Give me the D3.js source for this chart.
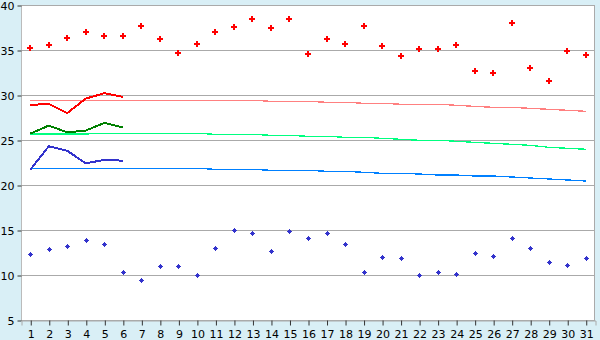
<!DOCTYPE html>
<html>
<head>
<meta charset="utf-8">
<script src="https://cdn.jsdelivr.net/npm/d3@7"></script>
<style>
  body { margin: 0; background: #d9eff6; }
  text { font-family: "DejaVu Sans", Verdana, sans-serif; font-size: 11px; fill: #000; }
</style>
</head>
<body>
<div id="grafiek"></div>
<script>
// dagen van de maand
var dagen = d3.range(1, 32);
var yTicks = [5, 10, 15, 20, 25, 30, 35, 40];

// losse punten: maximum en minimum per dag
var maxPunten = [35.2, 35.6, 36.3, 37.0, 36.6, 36.5, 37.7, 36.2, 34.7, 35.7,
                 37.0, 37.6, 38.4, 37.4, 38.4, 34.6, 36.2, 35.7, 37.7, 35.4,
                 34.3, 35.1, 35.1, 35.6, 32.7, 32.4, 38.0, 33.0, 31.6, 34.9, 34.5];
var minPunten = [12.3, 12.9, 13.2, 13.85, 13.4, 10.3, 9.5, 11.0, 11.0, 10.0,
                 13.0, 15.0, 14.7, 12.7, 14.9, 14.1, 14.7, 13.4, 10.3, 12.0,
                 11.9, 10.0, 10.3, 10.1, 12.5, 12.1, 14.1, 13.0, 11.5, 11.1, 11.9];

// dikke lijnen, alleen de eerste zes dagen
var hoogLijn = [28.9, 29.0, 28.0, 29.6, 30.2, 29.8];
var gemLijn = [25.7, 26.6, 25.85, 26.05, 26.9, 26.4];
var laagLijn = [21.7, 24.3, 23.8, 22.4, 22.8, 22.7];

// dunne lijnen (normalen)
var normHoog = [29.41, 29.41, 29.41, 29.41, 29.41, 29.41, 29.41, 29.41, 29.41, 29.41,
                29.41, 29.41, 29.41, 29.30, 29.30, 29.30, 29.19, 29.19, 29.08, 29.08,
                28.97, 28.97, 28.97, 28.86, 28.74, 28.63, 28.63, 28.52, 28.41, 28.30, 28.19];
var normGem = [25.67, 25.67, 25.67, 25.67, 25.74, 25.74, 25.74, 25.74, 25.74, 25.74,
               25.63, 25.63, 25.63, 25.52, 25.52, 25.41, 25.41, 25.30, 25.30, 25.19,
               25.08, 24.97, 24.97, 24.86, 24.74, 24.63, 24.52, 24.41, 24.19, 24.08, 23.97];
var normLaag = [21.86, 21.86, 21.86, 21.86, 21.86, 21.86, 21.86, 21.86, 21.86, 21.86,
                21.74, 21.74, 21.74, 21.63, 21.63, 21.63, 21.52, 21.52, 21.41, 21.30,
                21.30, 21.22, 21.11, 21.11, 21.00, 21.00, 20.89, 20.78, 20.67, 20.56, 20.44];

var breedte = 600, hoogte = 340;
var marge = {boven: 5, beneden: 20, rechts: 5, links: 21};

var svg = d3.select("#grafiek")
            .append("svg")
            .attr("width", breedte)
            .attr("height", hoogte);

var x = d3.scaleLinear()
          .domain([0.5, 31.5])
          .range([marge.links, breedte - marge.rechts]);

var y = d3.scaleLinear()
          .domain([5, 40])
          .range([hoogte - marge.beneden, marge.boven]);

// witte tekenvlak
svg.append("rect")
   .attr("x", marge.links)
   .attr("y", marge.boven)
   .attr("width", breedte - marge.rechts - marge.links)
   .attr("height", hoogte - marge.beneden - marge.boven)
   .attr("fill", "#fff");

// rasterlijnen
svg.append("g")
   .selectAll("line")
   .data(yTicks)
   .enter().append("line")
   .attr("x1", marge.links)
   .attr("x2", breedte - marge.rechts)
   .attr("y1", function(d) { return Math.round(y(d)) + 0.5; })
   .attr("y2", function(d) { return Math.round(y(d)) + 0.5; })
   .attr("stroke", "#aaa");

// rand links en rechts
svg.append("line")
   .attr("x1", marge.links + 0.5).attr("x2", marge.links + 0.5)
   .attr("y1", marge.boven).attr("y2", hoogte - marge.beneden)
   .attr("stroke", "#bbb");
svg.append("line")
   .attr("x1", breedte - marge.rechts - 0.5).attr("x2", breedte - marge.rechts - 0.5)
   .attr("y1", marge.boven).attr("y2", hoogte - marge.beneden)
   .attr("stroke", "#aaa");

// y-as
var yAs = svg.append("g")
             .attr("transform", "translate(" + (marge.links + 0.5) + ",0.5)")
             .call(d3.axisLeft(y).tickValues(yTicks).tickSize(4).tickPadding(3));
yAs.select(".domain").remove();
yAs.selectAll("line").attr("stroke", "#333");
yAs.selectAll("text").style("font-size", "11px").style("font-family", "DejaVu Sans");

// x-as
var xAs = svg.append("g")
             .attr("transform", "translate(0.5," + (hoogte - marge.beneden + 0.5) + ")")
             .call(d3.axisBottom(x).tickValues(dagen).tickFormat(d3.format("d")).tickSize(5).tickPadding(5));
xAs.select(".domain").attr("stroke", "#aaa");
xAs.selectAll("line").attr("stroke", "#333");
xAs.selectAll("text").style("font-size", "11px").style("font-family", "DejaVu Sans");

var lijn = d3.line()
             .x(function(d, i) { return x(i + 1); })
             .y(function(d) { return y(d); });

// dunne lijnen
[[normHoog, "#ff8080"], [normGem, "#00ff80"], [normLaag, "#0080ff"]].forEach(function(s) {
  svg.append("path")
     .datum(s[0])
     .attr("d", lijn)
     .attr("fill", "none")
     .attr("stroke", s[1])
     .attr("stroke-width", 1.3)
     .attr("shape-rendering", "crispEdges");
});

// dikke lijnen
[[hoogLijn, "#ff0000"], [gemLijn, "#008000"], [laagLijn, "#3333cc"]].forEach(function(s) {
  svg.append("path")
     .datum(s[0])
     .attr("d", lijn)
     .attr("fill", "none")
     .attr("stroke", s[1])
     .attr("stroke-width", 2)
     .attr("shape-rendering", "crispEdges");
});

// punten als kleine pixelkruisjes
var groot = "M-1,-3h2v1h1v1h1v2h-1v1h-1v1h-2v-1h-1v-1h-1v-2h1v-1h1z";
var klein = "M-0.5,-2.5h1v1h1v1h1v1h-1v1h-1v1h-1v-1h-1v-1h-1v-1h1v-1h1z";

svg.append("g")
   .selectAll("path")
   .data(maxPunten)
   .enter().append("path")
   .attr("d", "M-1,-3h2v2h2v2h-2v2h-2v-2h-2v-2h2z")
   .attr("shape-rendering", "crispEdges")
   .attr("transform", function(d, i) { return "translate(" + Math.round(x(i + 1)) + "," + Math.round(y(d)) + ")"; })
   .attr("fill", "#ff0000");

svg.append("g")
   .selectAll("path")
   .data(minPunten)
   .enter().append("path")
   .attr("d", klein)
   .attr("shape-rendering", "crispEdges")
   .attr("transform", function(d, i) { return "translate(" + (Math.round(x(i + 1)) + 0.5) + "," + (Math.round(y(d)) + 0.5) + ")"; })
   .attr("fill", "#3333cc");
</script>
</body>
</html>
